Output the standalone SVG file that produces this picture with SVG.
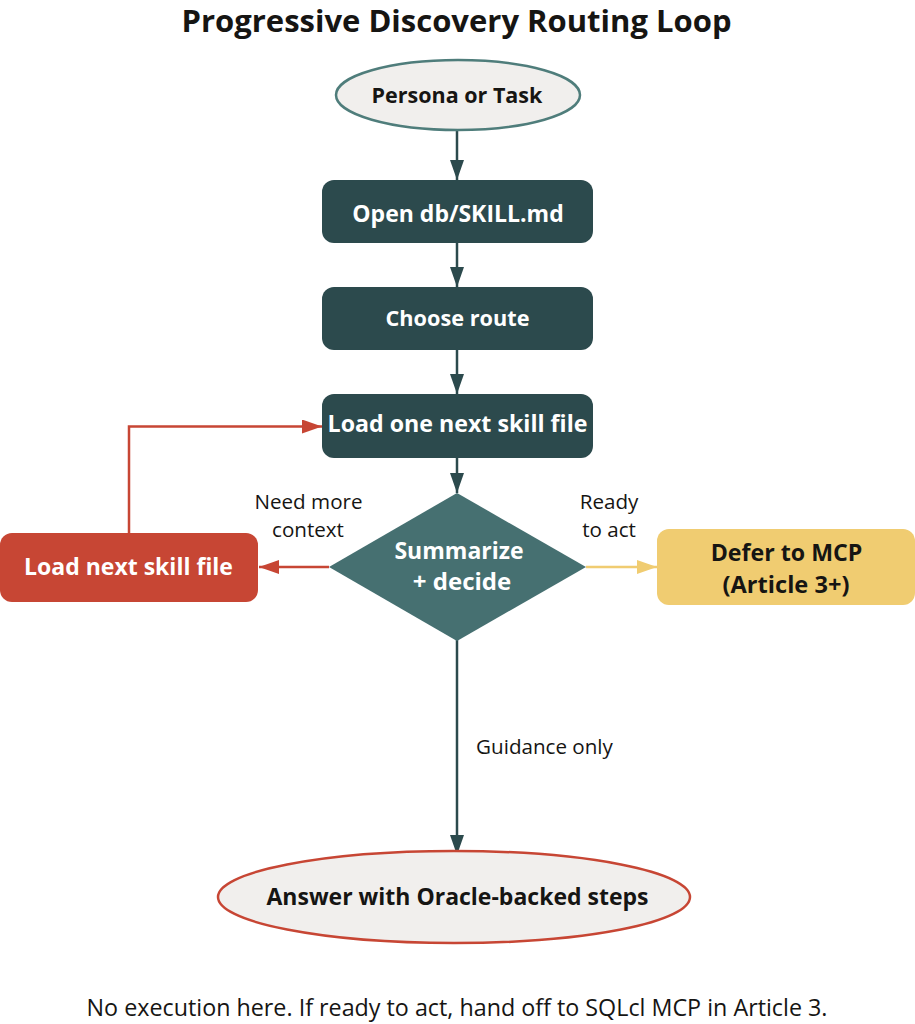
<svg xmlns="http://www.w3.org/2000/svg" width="915" height="1024" viewBox="0 0 915 1024">
<style>
text{font-family:"Open Sans","Noto Sans",sans-serif;text-anchor:middle}
.b{font-weight:700;font-size:23px}
.l{font-size:20.6px;fill:#161513}
.w{fill:#fff}
.k{fill:#161513}
.c{fill:none;stroke-width:2.5}
</style>
<defs>
<marker id="ad" markerUnits="userSpaceOnUse" markerWidth="22" markerHeight="16" refX="20" refY="7" orient="auto"><path d="M0 0L20 7L0 14z" fill="#2c4a4d"/></marker>
<marker id="ar" markerUnits="userSpaceOnUse" markerWidth="22" markerHeight="16" refX="20" refY="7" orient="auto"><path d="M0 0L20 7L0 14z" fill="#c74634"/></marker>
<marker id="ay" markerUnits="userSpaceOnUse" markerWidth="22" markerHeight="16" refX="20" refY="7" orient="auto"><path d="M0 0L20 7L0 14z" fill="#f0cc71"/></marker>
</defs>
<rect width="915" height="1024" fill="#fff"/>
<text x="456.500" y="32" font-size="31" font-weight="700" class="k">Progressive Discovery Routing Loop</text>
<g id="connectors">
<path class="c" stroke="#2c4a4d" d="M457 130V180" marker-end="url(#ad)"/>
<path class="c" stroke="#2c4a4d" d="M457 243V287" marker-end="url(#ad)"/>
<path class="c" stroke="#2c4a4d" d="M457 350V394" marker-end="url(#ad)"/>
<path class="c" stroke="#2c4a4d" d="M457 458V493" marker-end="url(#ad)"/>
<path class="c" stroke="#c74634" d="M329 567H259" marker-end="url(#ar)"/>
<path class="c" stroke="#c74634" d="M129 533V426.500H322" marker-end="url(#ar)"/>
<path class="c" stroke="#f0cc71" d="M586 567H657" marker-end="url(#ay)"/>
<path class="c" stroke="#2c4a4d" d="M457 640V855" marker-end="url(#ad)"/>
<text class="l" x="308.500" y="509">Need more</text>
<text class="l" x="308" y="537">context</text>
<text class="l" x="609" y="509">Ready</text>
<text class="l" x="609" y="537">to act</text>
<text class="l" x="544.500" y="754">Guidance only</text>
</g>
<g id="n-persona"><ellipse cx="458" cy="95" rx="122" ry="35" fill="#f1efed" stroke="#4f7d7b" stroke-width="2.500"/><text class="b k" style="font-size:21.500px" x="457" y="103">Persona or Task</text></g>
<g id="n-open"><rect x="322" y="180" width="271" height="63" rx="12" fill="#2c4a4d"/><text class="b w" x="458" y="222">Open db/SKILL.md</text></g>
<g id="n-route"><rect x="322" y="287" width="271" height="63" rx="12" fill="#2c4a4d"/><text class="b w" style="font-size:21.700px" x="457.500" y="326">Choose route</text></g>
<g id="n-load"><rect x="322" y="394" width="271" height="64" rx="12" fill="#2c4a4d"/><text class="b w" style="font-size:23.200px" x="457.500" y="432">Load one next skill file</text></g>
<g id="n-decide"><path d="M457 493L586 567L457 641L329 567z" fill="#467071"/><text class="b w" x="459" y="559">Summarize</text><text class="b w" style="font-size:24px" x="462" y="590">+ decide</text></g>
<g id="n-next"><rect x="0" y="533" width="258" height="69" rx="12" fill="#c74634"/><text class="b w" x="128.500" y="575">Load next skill file</text></g>
<g id="n-defer"><rect x="657" y="529" width="258" height="76" rx="12" fill="#f0cc71"/><text class="b k" style="font-size:23.200px" x="786.500" y="561">Defer to MCP</text><text class="b k" style="font-size:23.600px" x="786" y="593">(Article 3+)</text></g>
<g id="n-answer"><ellipse cx="454" cy="897" rx="236" ry="46" fill="#f1efed" stroke="#c74634" stroke-width="2.500"/><text class="b k" x="457.500" y="905">Answer with Oracle-backed steps</text></g>
<text x="457" y="1016" font-size="23.300" class="k">No execution here. If ready to act, hand off to SQLcl MCP in Article 3.</text>
</svg>
